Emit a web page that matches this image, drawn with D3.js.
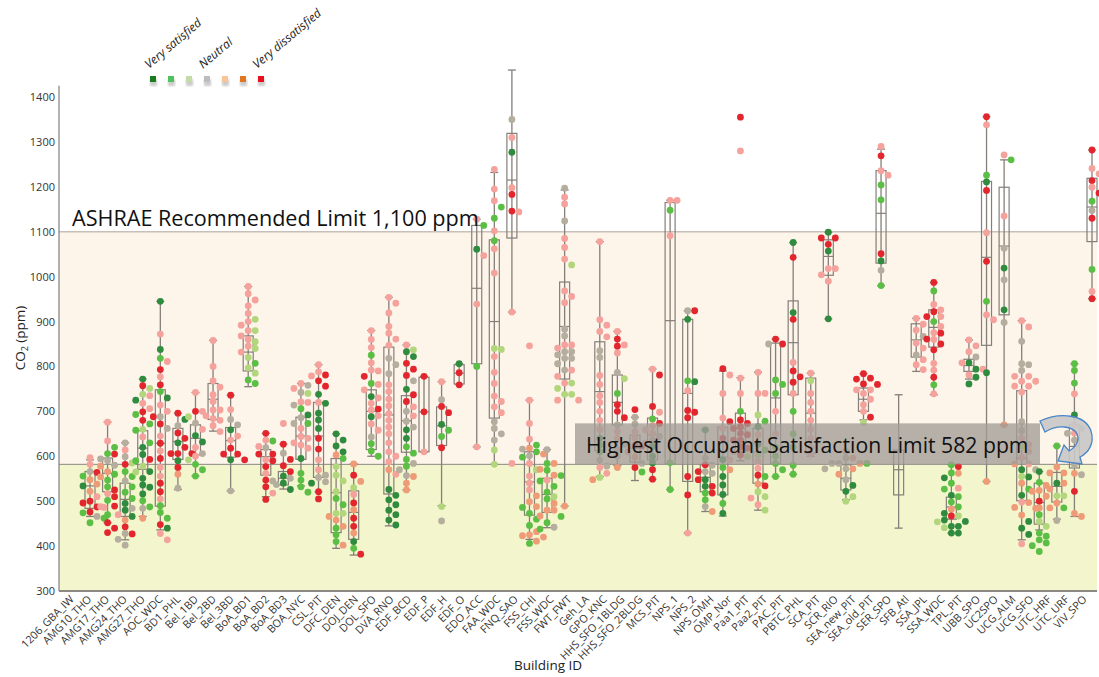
<!DOCTYPE html>
<html><head><meta charset="utf-8">
<script src="https://cdn.jsdelivr.net/npm/d3@7"></script>
<style>body{margin:0;background:#fff}svg{display:block}</style>
</head><body>
<svg id="chart" width="1099" height="677"></svg>
<script>
const categories = ["1206_GBA_IW","AMG10_THO","AMG17_THO","AMG24_THO","AMG27_THO","AOC_WDC","BD1_PHL","Bel_1BD","Bel_2BD","Bel_3BD","BoA_BD1","BoA_BD2","BoA_BD3","BOA_NYC","CSL_PIT","DFC_DEN","DOJ_DEN","DOL_SFO","DVA_RNO","EDF_BCD","EDF_P","EDF_H","EDF_O","EDO_ACC","FAA_WDC","FNQ_SAO","FSS_CHI","FSS_WDC","FWT_FWT","Geh_LA","GPO_KNC","HHS_SFO_1BLDG","HHS_SFO_2BLDG","MCS_PIT","NPS_1","NPS_2","NPS_OMH","OMP_Nor","Paa1_PIT","Paa2_PIT","PAC_PIT","PBTC_PHL","SCA_PIT","SCR_RIO","SEA_new_PIT","SEA_old_PIT","SER_SPO","SFB_Atl","SSA_JPL","SSA_WDC","TPL_PIT","UBB_SPO","UC2SPO","UCG_ALM","UCG_SFO","UTC_HRF","UTC_URF","VIV_SPO"];

// [lower whisker, Q1, median, Q3, upper whisker] per building (null = no box)
const boxStats = [
[466,484,534,566,592],[452,521,562,596,676],[414,466,504,540,630],[466,571,618,657,772],
[436,489,629,748,945],[526,593,633,662,696],[556,603,640,670,742],[656,682,727,762,858],
[523,598,635,664,736],[755,790,832,868,978],[510,558,599,615,651],[527,536,551,566,627],
[534,593,645,687,762],[521,553,645,720,804],[395,430,519,595,650],[380,415,475,523,583],
[600,615,700,748,880],[445,516,692,843,954],[525,609,679,735,848],[610,610,699,776,778],
[490,624,668,710,766],[759,761,785,804,806],[621,806,974,1114,1128],[582,685,900,1082,1232],
[921,1086,1215,1319,1460],[415,469,543,610,725],[441,475,515,551,615],[489,772,889,988,1193],
null,[555,612,744,855,1078],[579,670,720,781,878],[546,587,618,647,687],
[549,592,647,685,794],[526,584,902,1165,1170],[429,544,740,905,924],[477,521,553,581,659],
[467,514,598,665,790],[590,610,662,696,775],[480,540,610,662,787],[555,584,730,852,861],
[560,737,853,946,1076],[600,607,696,774,785],[906,1003,1045,1082,1099],[503,525,551,581,611],
[681,700,727,752,784],[980,1030,1141,1236,1284],[440,514,570,614,737],[789,821,859,895,907],
[737,843,887,926,987],[429,460,487,509,581],[772,789,802,816,859],[544,847,1043,1212,1356],
[670,915,1068,1199,1260],[414,501,595,746,902],[436,449,497,540,566],[460,498,533,564,623],
[466,574,622,670,806],[951,1078,1155,1219,1282]
];

// individual responses "CO2:satisfaction level" (0 = very satisfied ... 6 = very dissatisfied)
const responses = [
"597:4 582:4 566:3 556:1 548:5 538:5 534:0 522:5 510:4 496:6 486:4 474:1 462:1 452:1 564:6 500:6 487:6 476:6 466:3",
"676:4 634:4 620:1 606:1 605:6 594:3 590:3 580:3 578:5 566:5 560:1 554:5 547:1 532:1 525:6 517:4 510:6 502:1 488:4 489:6 470:1 452:6 440:6 430:6",
"630:3 614:4 599:3 585:2 582:6 566:1 555:1 545:3 532:1 520:1 506:1 495:0 484:3 480:0 470:4 466:0 458:5 443:6 428:3 427:6 415:3 402:3",
"772:0 757:6 751:2 738:2 735:4 725:0 718:4 706:4 699:6 693:1 680:6 672:1 660:2 658:1 643:4 630:1 620:0 604:0 593:6 590:1 578:2 565:2 566:0 551:0 536:0 531:0 516:0 501:1 484:3 487:1 462:5",
"945:0 872:4 838:0 818:1 811:4 793:6 777:4 759:6 744:1 730:0 714:4 700:4 688:3 688:6 672:6 662:3 645:4 629:6 612:4 595:6 575:4 556:4 540:6 521:6 505:4 490:1 475:1 462:1 448:6 440:0 428:4 414:4",
"696:6 682:0 668:3 652:6 640:6 630:0 620:6 606:6 606:6 606:6 590:0 575:6 560:5 529:3",
"742:4 700:6 700:4 688:2 674:3 660:4 646:0 632:0 620:4 606:3 600:4 592:2 582:1 570:1 556:1",
"858:4 800:4 768:4 754:4 737:4 722:4 703:4 684:4 703:4 690:4 680:4 668:4 655:4",
"736:6 704:4 682:3 670:3 659:0 645:4 636:4 618:6 605:6 592:0 523:3 605:6 592:6",
"978:4 962:4 948:4 935:4 918:4 905:2 892:4 880:4 868:4 855:2 845:4 832:4 820:2 807:1 797:2 785:2 770:1 762:1 900:4 880:2 860:4 840:2",
"651:6 634:1 619:3 605:6 590:6 577:6 562:4 547:6 532:6 518:4 504:6 636:4 622:4 605:6 592:4 545:3",
"673:4 627:6 607:3 593:6 579:6 566:6 556:0 540:0 526:0 551:3 537:3",
"762:4 751:4 740:2 721:4 706:1 692:0 673:1 662:4 640:4 625:4 595:0 562:1 547:1 532:1 520:1 758:3 742:3 714:3 686:3 673:3 644:4 630:4 618:4 720:4",
"804:4 788:4 779:4 756:6 738:0 718:0 696:0 681:0 662:0 640:6 616:6 592:4 570:4 553:3 540:0 521:6 505:6 781:6 768:6 720:4 558:3 543:3",
"650:0 636:0 623:0 610:0 595:1 577:2 558:2 545:2 521:2 506:1 492:1 473:2 458:5 440:1 425:1 410:1 402:5 466:5 444:5 603:5 473:2",
"583:5 558:6 544:5 530:2 515:4 496:6 481:5 462:6 444:6 429:5 410:0 395:1 382:6",
"880:4 860:4 842:4 825:1 808:4 792:4 778:6 762:1 748:4 733:0 718:4 703:4 688:0 672:4 658:4 643:3 628:1 612:1 600:1 790:4 760:4 730:4 705:6 690:4",
"954:4 941:4 919:4 889:4 874:4 861:4 847:4 818:3 804:3 784:3 759:4 744:4 727:4 712:4 695:4 680:4 665:4 650:4 630:4 610:4 600:4 588:4 570:5 560:4 526:0 513:0 503:0 492:0 480:0 470:0 458:0 447:0",
"848:4 837:2 833:0 822:0 807:6 794:6 780:6 768:3 749:0 737:6 722:6 710:4 700:3 690:4 678:3 665:3 659:0 640:0 621:1 607:1 593:1 578:1 584:3 570:3 557:3 555:5 540:5 525:5",
"778:6 699:6 610:4",
"766:4 726:3 711:6 697:6 671:0 658:1 644:1 619:6 488:2 456:3",
"806:0 786:6 759:6",
"1128:4 1114:1 1061:0 1047:4 939:4 800:1 621:4",
"1239:4 1195:4 1169:4 1155:1 1130:1 1102:4 1080:1 1062:4 1008:4 838:2 822:4 787:4 762:4 734:4 722:4 710:4 697:4 677:3 662:3 650:3 636:3 614:2 582:2 840:2",
"1350:3 1310:4 1277:0 1198:4 1183:6 1146:6 1144:4 921:4 584:4",
"725:4 673:4 638:4 625:1 610:1 598:1 584:4 570:2 556:4 540:4 525:4 512:5 499:5 486:1 473:1 460:1 446:1 432:5 420:5 406:1 618:5 605:5 488:5 425:5 616:3 601:3 423:5 411:5 846:4",
"615:3 584:1 569:1 557:1 545:1 533:1 520:1 505:1 480:5 466:1 452:1 438:1 584:5 571:5 558:5 547:4 510:2 495:5 480:5 467:5 442:3",
"1197:3 1177:4 1162:4 1124:3 1085:4 1065:4 1039:4 1026:2 968:4 956:4 942:4 883:3 868:3 848:4 833:3 818:3 806:3 792:3 778:4 763:4 751:2 738:2 725:4 841:4 826:3 848:4 833:3 818:3 792:4 763:2 738:2 725:4 489:5",
"",
"1078:4 904:4 892:4 878:4 866:4 835:3 820:3 780:4 760:4 735:4 720:4 700:4 680:4 660:4 640:0 625:1 610:1 592:3 575:4 562:4 553:2 578:3 548:5",
"878:4 861:6 848:4 787:3 773:2 740:1 715:6 700:6 686:6 670:3 655:4 640:4 627:3 615:3 600:3 575:5 845:6 830:4",
"704:6 687:3 672:3 655:4 640:4 624:6 610:4 598:5 584:3 565:1 623:6 575:6",
"794:4 781:6 711:6 698:4 683:1 668:4 652:4 637:3 622:0 600:0 585:0 570:6 549:6 673:6 659:4 644:3 630:4",
"1170:4 1170:4 1148:1 1091:4 586:1 526:1",
"924:3 924:6 905:0 766:0 768:1 746:4 702:6 698:6 686:6 555:6 514:6 429:4",
"659:0 596:3 580:3 566:3 548:0 533:0 518:1 503:1 488:3 477:5 581:6 566:6 548:6 533:6 518:6 562:3",
"795:6 781:4 740:4 685:4 677:6 662:4 640:6 592:0 575:1 555:0 536:0 515:0 495:1 473:0 592:4 570:5",
"1355:6 1280:4 774:4 740:4 700:1 673:6 662:6 648:6 636:6 621:6 610:4 599:2 681:6 666:6 651:6 636:6 618:6 603:6",
"787:4 740:4 740:4 692:2 678:1 666:0 648:4 627:0 614:1 603:2 588:4 573:4 555:1 538:5 521:2 510:2 492:4 480:2 558:6 534:6 507:4",
"861:6 850:6 850:3 770:1 760:1 740:1 700:4 650:4 620:1 600:1 584:1 570:1 555:1",
"1076:0 1043:6 920:0 905:6 809:4 790:6 777:6 765:6 740:4 700:1 650:1 620:1 580:1 560:1",
"785:4 768:2 740:4 720:4 700:4 680:4 660:4 640:4 620:4 605:4",
"1099:0 1086:6 1086:6 1072:6 1057:0 1018:4 1018:4 1004:4 990:4 906:0",
"611:3 596:3 584:3 572:3 560:5 548:3 535:0 522:0 510:2 500:2 596:5 584:5 572:5 584:3 572:3 584:1",
"784:6 772:6 760:6 748:4 740:4 727:4 715:4 700:4 687:6 675:2 774:6 761:6 748:4",
"1290:4 1269:6 1236:4 1226:4 1204:1 1171:1 1051:6 1035:0 1014:3 980:1",
"",
"907:4 894:4 881:4 867:3 852:4 841:4 826:3 815:4 804:4 793:4",
"987:6 968:1 938:4 926:4 911:4 900:1 889:4 875:4 860:4 850:6 837:6 807:4 792:4 776:6 759:1 739:4 922:6 911:6 874:6 861:6",
"581:1 563:1 552:0 540:1 529:4 513:0 498:1 487:1 473:0 458:0 444:0 429:0 577:6 562:5 527:1 510:1 482:5 467:6 455:0 444:0 429:0 467:2 454:2 441:2",
"859:4 846:4 833:4 821:3 808:0 794:0 776:0 761:0 808:4 794:4 781:4",
"1356:6 1338:4 1226:1 1211:0 1192:6 1098:4 1034:6 945:1 915:4 904:4 786:0 544:5",
"1271:4 1260:1 1135:4 1063:3 1019:0 993:3 926:0 898:3 670:5",
"902:4 888:4 856:3 806:3 778:4 767:4 756:4 743:4 677:3 657:3 640:4 626:4 611:4 597:4 583:4 570:0 554:0 540:5 527:1 513:0 498:4 484:5 469:5 455:0 440:0 426:0 405:4 804:3 791:3 778:4 767:4 756:4 622:2 583:5 570:3 555:2 497:5 486:5",
"566:0 542:1 524:5 511:5 500:6 485:5 470:1 455:2 444:2 429:1 414:1 401:1 388:1 535:5 522:5 422:1 407:1",
"623:1 576:5 563:5 540:0 527:5 512:2 496:5 485:1 457:3 563:5 540:5 512:2 485:5",
"806:1 791:1 763:1 739:4 692:0 670:4 662:3 651:3 636:3 581:3 559:3 522:6 473:5 466:5 652:4 562:5",
"1282:6 1241:4 1229:4 1214:6 1199:4 1186:6 1168:1 1147:3 1130:6 1016:1 967:4 951:6"
];

const yTicks = [300,400,500,600,700,800,900,1000,1100,1200,1300,1400];
const ashraeLimit = 1100;
const satisfactionLimit = 582;
const levelColors = ["#2f8b3e","#5bbf46","#b2d67c","#b5ae9e","#f5a29d","#ef9b78","#e3262d"];
const legendColors = ["#1b7b1f","#4fc25b","#c6dca8","#bdbdbd","#f9c597","#e0761f","#ea101b"];
const legendLabels = [["Very satisfied",0],["Neutral",3],["Very dissatisfied",6]];

const svg = d3.select("#chart");
const font = "'Open Sans', 'Liberation Sans', sans-serif";
const left = 59, right = 1097;
const x = d3.scalePoint().domain(categories).range([90, 1092]);
const xLab = d3.scalePoint().domain(categories).range([76, 1089]);
const y = d3.scaleLinear().domain([300, 1400]).range([591, 97]);

// background bands
svg.append("rect").attr("x", left).attr("width", right - left)
  .attr("y", y(satisfactionLimit)).attr("height", y(300) - y(satisfactionLimit)).attr("fill", "#f3f5cd");
svg.append("rect").attr("x", left).attr("width", right - left)
  .attr("y", y(ashraeLimit)).attr("height", y(satisfactionLimit) - y(ashraeLimit)).attr("fill", "#fdf4ea");
svg.append("line").attr("x1", left).attr("x2", right).attr("y1", y(ashraeLimit)).attr("y2", y(ashraeLimit))
  .attr("stroke", "#c8c0b8").attr("stroke-width", 1.5);
svg.append("line").attr("x1", left).attr("x2", right).attr("y1", y(satisfactionLimit)).attr("y2", y(satisfactionLimit))
  .attr("stroke", "#8c8882").attr("stroke-width", 1);

// y axis
const yAxis = svg.append("g").attr("transform", `translate(${left},0)`)
  .call(d3.axisLeft(y).tickValues(yTicks).tickSize(0).tickPadding(4).tickFormat(d3.format("d")));
yAxis.select(".domain").remove();
yAxis.selectAll("text").attr("font-family", font).attr("font-size", 11).attr("fill", "#333");
svg.append("line").attr("x1", left).attr("x2", left).attr("y1", y(1425)).attr("y2", y(300))
  .attr("stroke", "#7f7f7f").attr("stroke-width", 1.2);

// x axis
const xAxis = svg.append("g").attr("transform", `translate(0,${y(300)})`)
  .call(d3.axisBottom(xLab).tickSize(0));
xAxis.select(".domain").remove();
xAxis.selectAll("text").attr("font-family", font).attr("font-size", 10.8).attr("fill", "#333")
  .attr("text-anchor", "end").attr("dy", 0).attr("y", 0)
  .attr("transform", "translate(-2,9) rotate(-45)");
svg.append("line").attr("x1", left).attr("x2", right).attr("y1", y(300)).attr("y2", y(300))
  .attr("stroke", "#8a8a82").attr("stroke-width", 2);

// box plots
const boxW = 10, capW = 8, stroke = "#857f79";
const gB = svg.append("g");
categories.forEach((c, i) => {
  const s = boxStats[i];
  if (!s) return;
  const cx = x(c);
  const g = gB.append("g");
  g.append("line").attr("x1", cx).attr("x2", cx).attr("y1", y(s[4])).attr("y2", y(s[0]))
    .attr("stroke", stroke).attr("stroke-width", 1.3);
  [s[0], s[4]].forEach(v => g.append("line").attr("x1", cx - capW/2).attr("x2", cx + capW/2)
    .attr("y1", y(v)).attr("y2", y(v)).attr("stroke", stroke).attr("stroke-width", 1.3));
  g.append("rect").attr("x", cx - boxW/2).attr("width", boxW).attr("y", y(s[3]))
    .attr("height", y(s[1]) - y(s[3])).attr("fill", "none").attr("stroke", stroke).attr("stroke-width", 1.2);
  g.append("line").attr("x1", cx - boxW/2).attr("x2", cx + boxW/2).attr("y1", y(s[2])).attr("y2", y(s[2]))
    .attr("stroke", stroke).attr("stroke-width", 1.2);
});

// dots (simple column swarm)
const offsets = [0, 7, -7, 14, -14, 21, -21, 28];
const gD = svg.append("g");
categories.forEach((c, i) => {
  const pts = responses[i].trim() ? responses[i].trim().split(/\s+/).map(t => { const [v, l] = t.split(":"); return {v: +v, l: +l}; }) : [];
  const placed = [];
  pts.sort((a, b) => b.v - a.v).forEach(d => {
    const py = y(d.v);
    for (const o of offsets) {
      if (!placed.some(p => p.o === o && Math.abs(p.py - py) < 6.4)) { placed.push({...d, o, py}); break; }
    }
  });
  gD.selectAll(null).data(placed).join("circle")
    .attr("cx", d => x(c) + d.o).attr("cy", d => d.py).attr("r", 3.4)
    .attr("fill", d => levelColors[d.l]);
});

// ASHRAE label
svg.append("text").attr("x", 72).attr("y", y(ashraeLimit) - 6)
  .attr("font-family", font).attr("font-size", 21.6).attr("fill", "#111")
  .text("ASHRAE Recommended Limit 1,100 ppm");

// satisfaction label box
const hb = svg.append("g");
hb.append("rect").attr("x", 575).attr("width", 465).attr("y", y(satisfactionLimit) - 41).attr("height", 41)
  .attr("fill", "#a29c96").attr("opacity", 0.78);
hb.append("text").attr("x", 586).attr("y", y(satisfactionLimit) - 11)
  .attr("font-family", font).attr("font-size", 21.2).attr("fill", "#111")
  .text("Highest Occupant Satisfaction Limit 582 ppm");

// curved arrow
svg.append("path")
  .attr("d", "M1040,421 C1060,412 1085,414 1091,431 C1095,444 1088,453 1080,457 L1082,464 L1058,461 L1064,445 L1069,451 C1076,447 1080,440 1077,434 C1073,426 1058,424 1045,432 Z")
  .attr("fill", "#c8c8c8").attr("fill-opacity", 0.9).attr("stroke", "#4a86c8").attr("stroke-width", 1.3);

// axis titles
const yt = svg.append("text").attr("transform", "translate(25,338) rotate(-90)")
  .attr("text-anchor", "middle").attr("font-family", font).attr("font-size", 13.5).attr("fill", "#222");
yt.append("tspan").text("CO");
yt.append("tspan").attr("font-size", 9).attr("dy", 3).text("2");
yt.append("tspan").attr("dy", -3).text(" (ppm)");
svg.append("text").attr("x", 548).attr("y", 670).attr("text-anchor", "middle")
  .attr("font-family", font).attr("font-size", 13.5).attr("fill", "#222").text("Building ID");

// legend
const lx = d3.scalePoint().domain(d3.range(7)).range([153, 261]);
const defs = svg.append("defs");
defs.append("filter").attr("id", "blur").append("feGaussianBlur").attr("stdDeviation", 1.2);
const lg = svg.append("g");
lg.selectAll(".sh").data(d3.range(7)).join("rect").attr("x", d => lx(d) - 3).attr("y", 79)
  .attr("width", 7).attr("height", 7).attr("fill", "#999").attr("opacity", 0.5).attr("filter", "url(#blur)");
lg.selectAll(".sq").data(d3.range(7)).join("rect").attr("x", d => lx(d) - 3).attr("y", 76)
  .attr("width", 6).attr("height", 6).attr("fill", d => legendColors[d]);
lg.selectAll("text").data(legendLabels).join("text")
  .attr("transform", d => `translate(${lx(d[1]) - 4},69) rotate(-40)`)
  .attr("font-family", font).attr("font-size", 12).attr("font-style", "italic").attr("fill", "#222")
  .text(d => d[0]);
</script>
</body></html>
